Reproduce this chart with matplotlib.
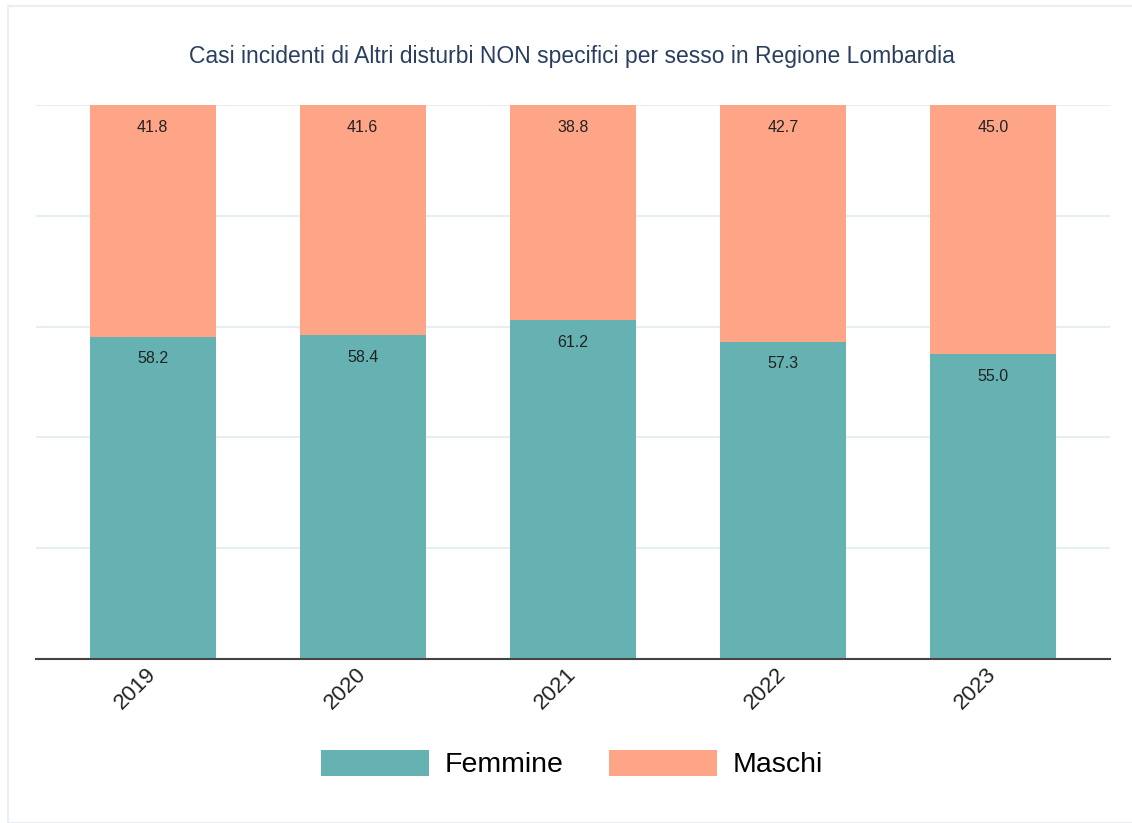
import matplotlib
matplotlib.use("Agg")
import matplotlib.pyplot as plt
from matplotlib.patches import Rectangle, Patch
import numpy as np

plt.rcParams["font.family"] = ["Liberation Sans", "DejaVu Sans"]

years = ["2019", "2020", "2021", "2022", "2023"]
femmine = [58.2, 58.4, 61.2, 57.3, 55.0]
maschi = [41.8, 41.6, 38.8, 42.7, 45.0]

TEAL = "#66b1b2"
SALMON = "#ffa587"

W, H = 1132, 823
fig = plt.figure(figsize=(W / 100, H / 100), dpi=100)
fig.patches.append(Rectangle((8 / W, 0), 1, 1 - 6 / H, transform=fig.transFigure,
                             fill=False, edgecolor="#e8eef2", linewidth=1.5, zorder=-10))

ax = fig.add_axes([36 / W, 1 - 659 / H, (1110 - 36) / W, (659 - 105) / H])
x = np.arange(len(years))
ax.bar(x, femmine, width=0.6, color=TEAL, zorder=2)
ax.bar(x, maschi, width=0.6, bottom=femmine, color=SALMON, zorder=2)

for xi, f, m in zip(x, femmine, maschi):
    ax.annotate(f"{f:.1f}", (xi, f), xytext=(0, -16), textcoords="offset points",
                ha="center", va="center", fontsize=11.5, color="#222222")
    ax.annotate(f"{m:.1f}", (xi, 100), xytext=(0, -16), textcoords="offset points",
                ha="center", va="center", fontsize=11.5, color="#222222")

ax.set_xlim(-0.555, 4.557)
ax.set_ylim(0, 100)
ax.set_yticks([0, 20, 40, 60, 80, 100])
ax.yaxis.grid(True, color="#e6eef0", linewidth=1.5, zorder=0)
ax.set_axisbelow(True)
ax.tick_params(axis="y", left=False, labelleft=False)
ax.set_xticks(x)
ax.set_xticklabels(years, rotation=45, fontsize=16, color="#222222")
ax.tick_params(axis="x", length=0, pad=9)
for lbl in ax.get_xticklabels():
    lbl.set_rotation_mode("anchor")
    lbl.set_ha("right")
    lbl.set_va("center")
for s in ["top", "right", "left"]:
    ax.spines[s].set_visible(False)
ax.spines["bottom"].set_color("#444444")
ax.spines["bottom"].set_linewidth(1.5)
ax.spines["bottom"].set_zorder(3)

fig.text(572 / W, 1 - 56 / H, "Casi incidenti di Altri disturbi NON specifici per sesso in Regione Lombardia",
         ha="center", va="center", fontsize=16.5, color="#2a3f5f")

handles = [Patch(facecolor=TEAL, label="Femmine"), Patch(facecolor=SALMON, label="Maschi")]
fig.legend(handles=handles, loc="center", bbox_to_anchor=(572 / W, 1 - 764 / H), ncol=2,
           frameon=False, fontsize=20.5, handlelength=3.8, handleheight=1.05,
           columnspacing=1.6, handletextpad=0.55)

fig.savefig("out.png", dpi=100)
